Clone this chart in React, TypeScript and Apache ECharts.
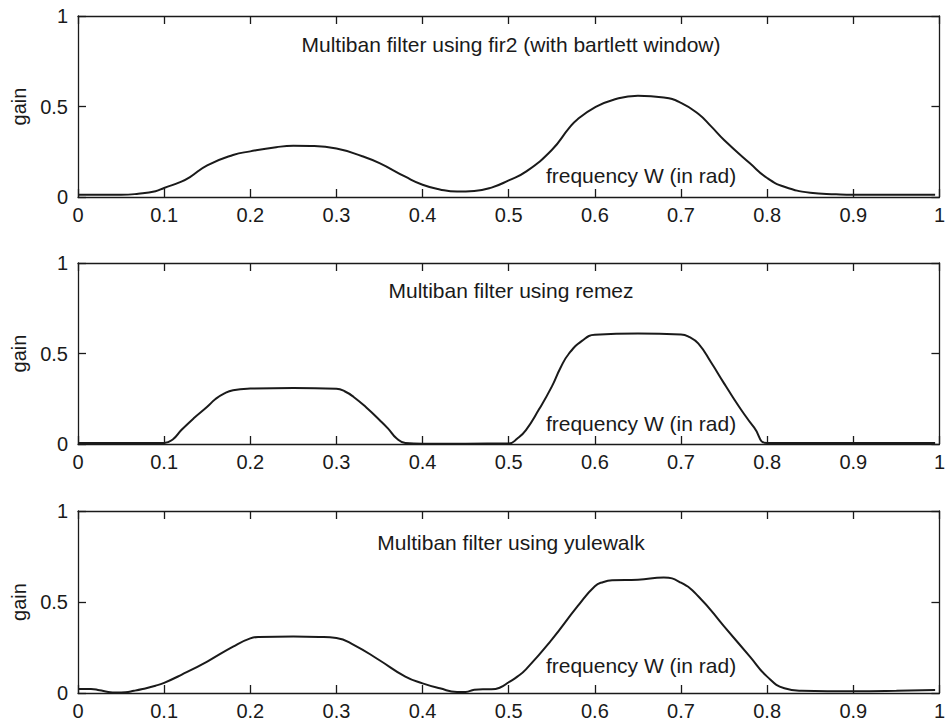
import React, { useEffect, useRef } from "react";
import * as echarts from "echarts";

const xTicks = [0, 0.1, 0.2, 0.3, 0.4, 0.5, 0.6, 0.7, 0.8, 0.9, 1];
const yTicks = [0, 0.5, 1];

const titles = [
  "Multiban filter using fir2 (with bartlett window)",
  "Multiban filter using remez",
  "Multiban filter using yulewalk",
];
const xLabelText = "frequency W (in rad)";
const yLabelText = "gain";

const freqFir2 = [0, 0.03, 0.05, 0.07, 0.09, 0.1, 0.12, 0.13, 0.15, 0.18, 0.2, 0.23, 0.25, 0.27, 0.3, 0.33, 0.35, 0.38, 0.4, 0.42, 0.44, 0.46, 0.48, 0.5, 0.52, 0.55, 0.57, 0.58, 0.6, 0.62, 0.65, 0.68, 0.7, 0.72, 0.735, 0.75, 0.78, 0.8, 0.82, 0.85, 0.88, 0.9, 0.95, 0.995];
const gainFir2 = [0.012, 0.012, 0.012, 0.018, 0.032, 0.05, 0.085, 0.11, 0.175, 0.232, 0.252, 0.275, 0.283, 0.282, 0.268, 0.225, 0.187, 0.112, 0.068, 0.042, 0.03, 0.033, 0.052, 0.092, 0.14, 0.26, 0.38, 0.43, 0.495, 0.535, 0.56, 0.55, 0.52, 0.46, 0.39, 0.315, 0.186, 0.105, 0.057, 0.024, 0.015, 0.012, 0.012, 0.012];

const freqRemez = [0, 0.05, 0.1, 0.11, 0.12, 0.135, 0.15, 0.16, 0.17, 0.18, 0.2, 0.25, 0.3, 0.31, 0.32, 0.335, 0.35, 0.36, 0.37, 0.38, 0.4, 0.45, 0.5, 0.51, 0.52, 0.535, 0.55, 0.56, 0.57, 0.585, 0.6, 0.65, 0.7, 0.71, 0.72, 0.735, 0.75, 0.76, 0.77, 0.785, 0.8, 0.85, 0.9, 0.95, 0.995];
const gainRemez = [0.006, 0.006, 0.006, 0.025, 0.077, 0.145, 0.206, 0.25, 0.28, 0.297, 0.306, 0.31, 0.305, 0.29, 0.26, 0.2, 0.133, 0.085, 0.03, 0.006, 0.002, 0.002, 0.003, 0.03, 0.077, 0.19, 0.317, 0.42, 0.5, 0.57, 0.603, 0.61, 0.605, 0.59, 0.556, 0.45, 0.335, 0.26, 0.188, 0.09, 0.005, 0.005, 0.005, 0.005, 0.005];

const freqYule = [0, 0.015, 0.025, 0.035, 0.045, 0.055, 0.065, 0.075, 0.09, 0.1, 0.12, 0.15, 0.18, 0.2, 0.21, 0.25, 0.28, 0.3, 0.32, 0.35, 0.38, 0.4, 0.42, 0.44, 0.45, 0.46, 0.47, 0.48, 0.49, 0.5, 0.51, 0.52, 0.55, 0.58, 0.6, 0.61, 0.62, 0.65, 0.68, 0.7, 0.72, 0.75, 0.78, 0.8, 0.82, 0.84, 0.87, 0.9, 0.95, 0.995];
const gainYule = [0.022, 0.022, 0.015, 0.006, 0.003, 0.004, 0.012, 0.022, 0.04, 0.056, 0.1, 0.173, 0.255, 0.3, 0.308, 0.31, 0.308, 0.302, 0.265, 0.18, 0.09, 0.053, 0.026, 0.006, 0.006, 0.018, 0.021, 0.02, 0.03, 0.059, 0.09, 0.13, 0.293, 0.477, 0.587, 0.61, 0.619, 0.622, 0.634, 0.606, 0.532, 0.366, 0.2, 0.09, 0.026, 0.012, 0.01, 0.01, 0.012, 0.016];

const panels = [
  { freq: freqFir2, gain: gainFir2 },
  { freq: freqRemez, gain: gainRemez },
  { freq: freqYule, gain: gainYule },
];

const INK = "#1a1a1a";
const FONT = "Liberation Sans";
const FS_TICK = 20;
const FS_TEXT = 21;

export default function App() {
  const ref = useRef<HTMLDivElement>(null);
  useEffect(() => {
    if (!ref.current) return;
    const chart = echarts.init(ref.current, undefined, { renderer: "svg" });
    const gridTops = [16, 263, 511];
    const gridHeights = [181, 181, 182];
    const grids = gridTops.map((t, i) => ({ left: 78, right: 4, top: t, height: gridHeights[i], containLabel: false }));
    const axisLine = { show: true, onZero: false, lineStyle: { color: INK, width: 1.3 } };
    const tick = (show: boolean) => ({ show, inside: true, length: 8, lineStyle: { color: INK, width: 1.3 } });
    const fmtX = (v: number) => (v === 0 ? "0" : v === 1 ? "1" : v.toFixed(1));
    const fmtY = (v: number) => (v === 0 ? "0" : v === 1 ? "1" : String(v));

    const xAxis: any[] = [];
    const yAxis: any[] = [];
    panels.forEach((_, i) => {
      xAxis.push({
        type: "value", gridIndex: i, position: "bottom", min: xTicks[0], max: xTicks[xTicks.length - 1], interval: 0.1,
        axisLine, axisTick: tick(true), splitLine: { show: false },
        axisLabel: { show: true, margin: 8, color: INK, fontFamily: FONT, fontSize: FS_TICK, formatter: fmtX },
      });
      xAxis.push({
        type: "value", gridIndex: i, position: "top", min: 0, max: 1, interval: 0.1,
        axisLine, axisTick: tick(true), splitLine: { show: false }, axisLabel: { show: false },
      });
      yAxis.push({
        type: "value", gridIndex: i, position: "left", min: yTicks[0], max: yTicks[yTicks.length - 1], interval: 0.5,
        axisLine, axisTick: tick(true), splitLine: { show: false },
        axisLabel: { show: true, margin: 10, color: INK, fontFamily: FONT, fontSize: FS_TICK, formatter: fmtY },
        name: yLabelText, nameLocation: "middle", nameGap: 49,
        nameTextStyle: { color: INK, fontFamily: FONT, fontSize: FS_TICK },
      });
      yAxis.push({
        type: "value", gridIndex: i, position: "right", min: 0, max: 1, interval: 0.5,
        axisLine, axisTick: tick(true), splitLine: { show: false }, axisLabel: { show: false },
      });
    });

    const series = panels.map((p, i) => ({
      type: "line",
      xAxisIndex: i * 2,
      yAxisIndex: i * 2,
      data: p.freq.map((f, k) => [f, p.gain[k]]),
      showSymbol: false,
      smooth: 0.5,
      lineStyle: { color: INK, width: 2 },
    }));

    const titleY = [44, 290, 542];
    const xNameY = [175, 423, 665];
    const graphic: any[] = [];
    titles.forEach((t, i) => {
      graphic.push({
        type: "text", x: 511, y: titleY[i],
        style: { text: t, fill: INK, font: `${FS_TEXT}px "${FONT}"`, textAlign: "center", textVerticalAlign: "middle" },
      });
      graphic.push({
        type: "text", x: 641, y: xNameY[i],
        style: { text: xLabelText, fill: INK, font: `${FS_TEXT}px "${FONT}"`, textAlign: "center", textVerticalAlign: "middle" },
      });
    });

    chart.setOption({
      animation: false,
      backgroundColor: "#ffffff",
      grid: grids,
      xAxis,
      yAxis,
      series,
      graphic,
    });
    return () => chart.dispose();
  }, []);
  return <div ref={ref} style={{ position: "fixed", left: 0, top: 0, width: 948, height: 727 }} />;
}
